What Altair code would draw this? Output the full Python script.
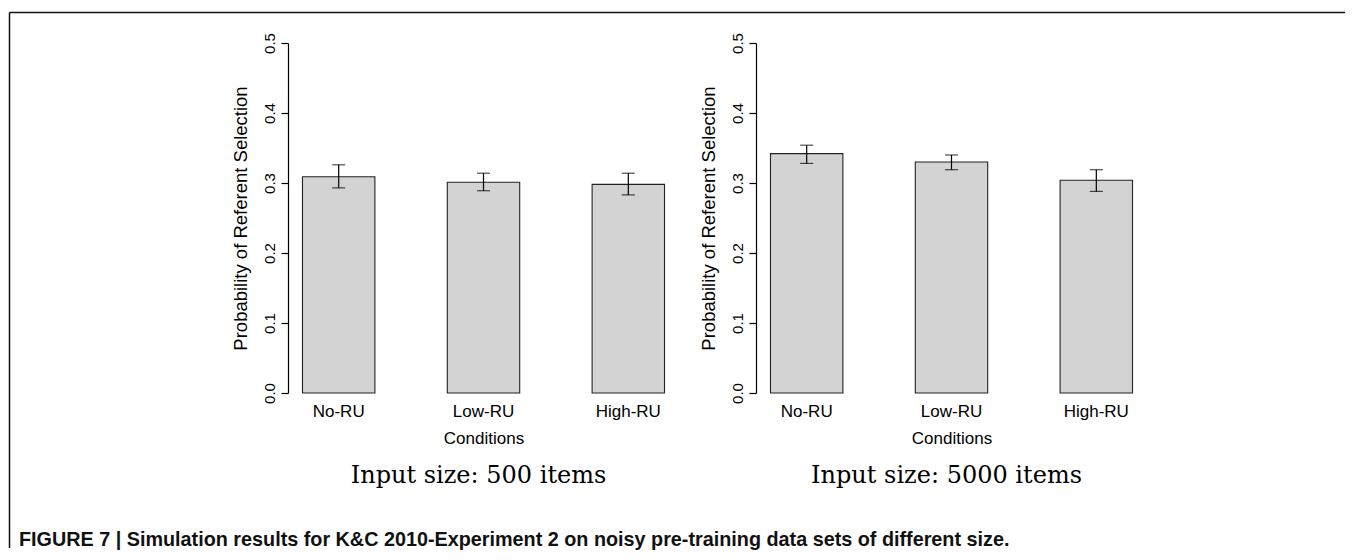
import altair as alt
import pandas as pd

conditions = ["No-RU", "Low-RU", "High-RU"]

mean_500 = [0.309, 0.301, 0.298]
low_500 = [0.293, 0.289, 0.283]
high_500 = [0.326, 0.314, 0.314]

mean_5000 = [0.342, 0.330, 0.304]
low_5000 = [0.328, 0.319, 0.288]
high_5000 = [0.354, 0.340, 0.319]

panel_titles = ["Input size: 500 items", "Input size: 5000 items"]
y_ticks = [0.0, 0.1, 0.2, 0.3, 0.4, 0.5]
y_title = "Probability of Referent Selection"
x_title = "Conditions"
caption = ("FIGURE 7 | Simulation results for K&C 2010-Experiment 2 on noisy "
           "pre-training data sets of different size.")

SANS = "Liberation Sans"
SERIF = "DejaVu Serif"
W, H = 391, 350


def xenc():
    return alt.X(
        "cond:N", sort=conditions, title=x_title,
        scale=alt.Scale(paddingInner=0.5, paddingOuter=0.1),
        axis=alt.Axis(labelAngle=0, domain=False, ticks=False, labelPadding=10,
                      labelFontSize=17, titleFontSize=17, titlePadding=11,
                      labelFont=SANS, titleFont=SANS, labelColor="black",
                      titleColor="black", titleFontWeight="normal"),
    )


def yenc(field):
    return alt.Y(
        field, title=y_title,
        scale=alt.Scale(domain=[0, 0.5], nice=False, zero=True),
        axis=alt.Axis(values=y_ticks, format=".1f", grid=False, tickSize=7,
                      domainColor="black", tickColor="black", domainWidth=1.2,
                      tickWidth=1.2, labelAngle=270, labelAlign="center",
                      labelBaseline="bottom", labelPadding=4, labelFontSize=15,
                      labelFont=SANS, labelColor="black", titleFont=SANS,
                      titleFontSize=18.5, titleFontWeight="normal",
                      titleColor="black", titlePadding=12),
    )


def panel(mean, lo, hi, title, decor=False):
    df = pd.DataFrame({"cond": conditions, "mean": mean, "lo": lo, "hi": hi})
    base = alt.Chart(df)
    bars = base.mark_bar(fill="#D3D3D3", stroke="#222222", strokeWidth=1.1).encode(
        x=xenc(), y=yenc("mean:Q"))
    whisk = base.mark_rule(color="black", strokeWidth=1.2).encode(
        x=xenc(), y=yenc("lo:Q"), y2="hi:Q")
    cap_lo = base.mark_tick(color="black", size=13, thickness=1.2).encode(
        x=xenc(), y=yenc("lo:Q"))
    cap_hi = base.mark_tick(color="black", size=13, thickness=1.2).encode(
        x=xenc(), y=yenc("hi:Q"))
    tdf = pd.DataFrame({"t": [title]})
    ttl = alt.Chart(tdf).mark_text(
        font=SERIF, fontSize=24, color="black", align="center",
        baseline="alphabetic").encode(
        x=alt.value(W / 2 - 5), y=alt.value(483 - 43), text="t:N")
    layers = [bars, whisk, cap_lo, cap_hi, ttl]
    if decor:
        cdf = pd.DataFrame({"t": [caption]})
        cap = alt.Chart(cdf).mark_text(
            font=SANS, fontSize=19.8, fontWeight="bold", color="#111111",
            align="left", baseline="alphabetic").encode(
            x=alt.value(19 - 288), y=alt.value(546 - 43), text="t:N")
        fdf = pd.DataFrame({"k": [0]})
        left_line = alt.Chart(fdf).mark_rule(color="#111111", strokeWidth=1.5).encode(
            x=alt.value(9.5 - 288), y=alt.value(12.5 - 43), y2=alt.value(548 - 43))
        top_line = alt.Chart(fdf).mark_rule(color="#111111", strokeWidth=1.5).encode(
            x=alt.value(9.5 - 288), x2=alt.value(1345 - 288), y=alt.value(12.5 - 43))
        layers += [cap, left_line, top_line]
    return alt.layer(*layers).properties(width=W, height=H)


left = panel(mean_500, low_500, high_500, panel_titles[0], decor=True)
right = panel(mean_5000, low_5000, high_5000, panel_titles[1])

chart = alt.hconcat(left, right, spacing=77, bounds="flush").properties(
    padding={"left": 0, "top": 3, "right": 0, "bottom": 0},
    autosize=alt.AutoSizeParams(type="pad"),
    background="white",
).configure_view(strokeWidth=0, stroke="transparent")

chart.save("out.html", embed_options={"renderer": "svg", "actions": False})
